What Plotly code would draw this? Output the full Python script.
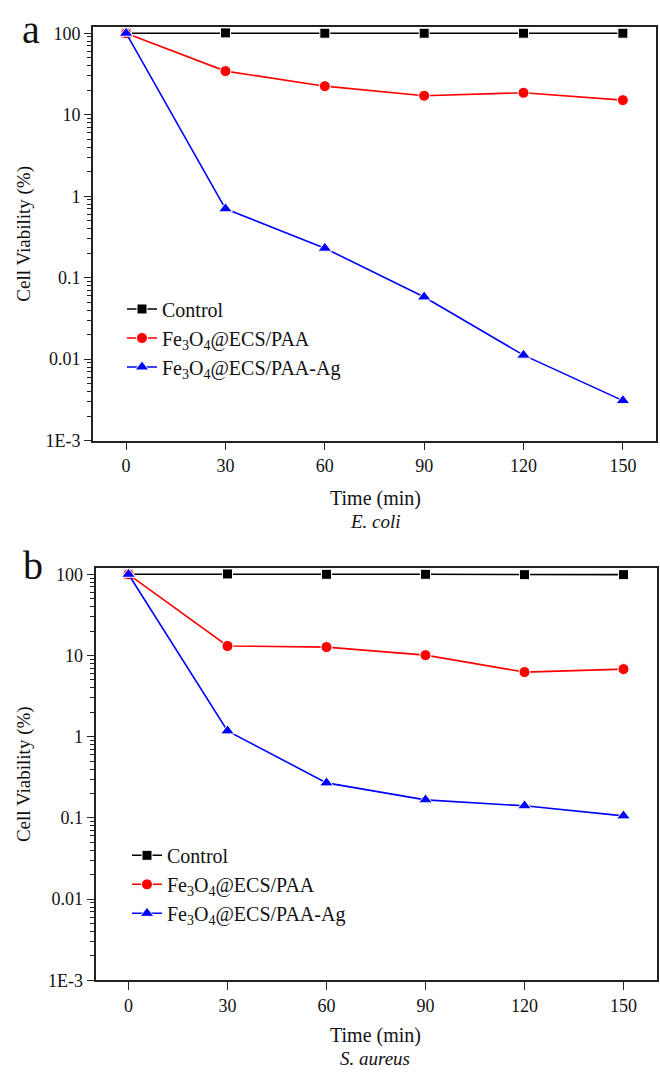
import plotly.graph_objects as go

# ---------------- data ----------------
time_min = [0, 30, 60, 90, 120, 150]

# panel a: E. coli
ecoli_control = [100, 101, 100, 100, 100, 100]
ecoli_paa = [100, 34.3, 22.4, 17.1, 18.6, 15.1]
ecoli_paa_ag = [100, 0.70, 0.23, 0.058, 0.0112, 0.0031]

# panel b: S. aureus
saureus_control = [100, 101, 100, 100, 99, 99]
saureus_paa = [100, 13.1, 12.7, 10.1, 6.25, 6.8]
saureus_paa_ag = [100, 1.18, 0.27, 0.167, 0.141, 0.106]

series_names = ["Control",
                "Fe<sub>3</sub>O<sub>4</sub>@ECS/PAA",
                "Fe<sub>3</sub>O<sub>4</sub>@ECS/PAA-Ag"]
series_colors = ["#000000", "#FF0000", "#0000FF"]
series_symbols = ["square", "circle", "triangle-up"]
series_msize = [10, 11, 12]

x_tickvals = [0, 30, 60, 90, 120, 150]
y_tickvals = [100, 10, 1, 0.1, 0.01, 0.001]
y_ticktext = ["100", "10", "1", "0.1", "0.01", "1E-3"]
minor_vals = [m * 10.0 ** e for e in range(-3, 3) for m in range(2, 10)]

FONT = "Liberation Serif"
W, H = 660, 1077

fig = go.Figure()

panels = [
    (ecoli_control, ecoli_paa, ecoli_paa_ag, "x", "y", "legend"),
    (saureus_control, saureus_paa, saureus_paa_ag, "x2", "y2", "legend2"),
]
for ctrl, paa, ag, xa, ya, lg in panels:
    for vals, name, col, sym, ms in zip([ctrl, paa, ag], series_names,
                                        series_colors, series_symbols, series_msize):
        fig.add_trace(go.Scatter(
            x=time_min, y=vals, name=name, mode="lines+markers",
            xaxis=xa, yaxis=ya, legend=lg,
            line=dict(color=col, width=1.6),
            marker=dict(symbol=sym, size=ms, color=col,
                        line=dict(color="white", width=1)),
        ))

def xaxis_cfg(domain, anchor):
    return dict(domain=domain, anchor=anchor, range=[-10, 160],
                tickmode="array", tickvals=x_tickvals,
                ticks="outside", ticklen=8, tickwidth=1.3, tickcolor="#222",
                showline=True, linecolor="#222", linewidth=1.6, mirror=True,
                showgrid=False, zeroline=False,
                tickfont=dict(family=FONT, size=18, color="#111"))

def yaxis_cfg(domain, anchor):
    return dict(domain=domain, anchor=anchor, type="log", range=[-3, 2.08],
                tickmode="array", tickvals=y_tickvals, ticktext=y_ticktext,
                ticks="outside", ticklen=7, tickwidth=1.3, tickcolor="#222",
                minor=dict(tickmode="array", tickvals=minor_vals, ticks="outside",
                           ticklen=4, tickwidth=1, tickcolor="#222", showgrid=False),
                showline=True, linecolor="#222", linewidth=1.6, mirror=True,
                showgrid=False, zeroline=False,
                tickfont=dict(family=FONT, size=18, color="#111"))

legend_common = dict(bgcolor="rgba(0,0,0,0)", borderwidth=0,
                     font=dict(family=FONT, size=20, color="#111"),
                     xanchor="left", yanchor="top", tracegroupgap=0,
                     itemwidth=30)

fig.update_layout(
    width=W, height=H,
    margin=dict(l=0, r=0, t=0, b=0),
    paper_bgcolor="white", plot_bgcolor="white",
    showlegend=True,
    font=dict(family=FONT, size=18, color="#111"),
    xaxis=xaxis_cfg([93 / W, 656 / W], "y"),
    yaxis=yaxis_cfg([1 - 443 / H, 1 - 24 / H], "x"),
    xaxis2=xaxis_cfg([95.5 / W, 656.5 / W], "y2"),
    yaxis2=yaxis_cfg([1 - 989.3 / H, 1 - 571.7 / H], "x2"),
    legend=dict(x=122 / W, y=1 - 290 / H, **legend_common),
    legend2=dict(x=127 / W, y=1 - 843 / H, **legend_common),
)

ann = []
# panel letters
ann.append(dict(text="a", x=31 / W, y=1 - 2 / H, xref="paper", yref="paper",
                showarrow=False, font=dict(family=FONT, size=40, color="#111"),
                xanchor="center", yanchor="top"))
ann.append(dict(text="b", x=33 / W, y=1 - 545 / H, xref="paper", yref="paper",
                showarrow=False, font=dict(family=FONT, size=40, color="#111"),
                xanchor="center", yanchor="top"))
# y titles
for yc in [233.5, 780.5]:
    ann.append(dict(text="Cell Viability (%)", x=24 / W, y=1 - yc / H,
                    xref="paper", yref="paper", showarrow=False, textangle=-90,
                    font=dict(family=FONT, size=19, color="#111"),
                    xanchor="center", yanchor="middle"))
# x titles and species
for ty, sy, sp in [(502, 525, "E. coli"), (1045, 1068, "S. aureus")]:
    ann.append(dict(text="Time (min)", x=375 / W, y=1 - ty / H,
                    xref="paper", yref="paper", showarrow=False,
                    font=dict(family=FONT, size=20, color="#111"),
                    xanchor="center", yanchor="middle"))
    ann.append(dict(text="<i>" + sp + "</i>", x=375 / W, y=1 - sy / H,
                    xref="paper", yref="paper", showarrow=False,
                    font=dict(family=FONT, size=19, color="#111"),
                    xanchor="center", yanchor="middle"))
fig.update_layout(annotations=ann)

fig.write_html("out.html")
